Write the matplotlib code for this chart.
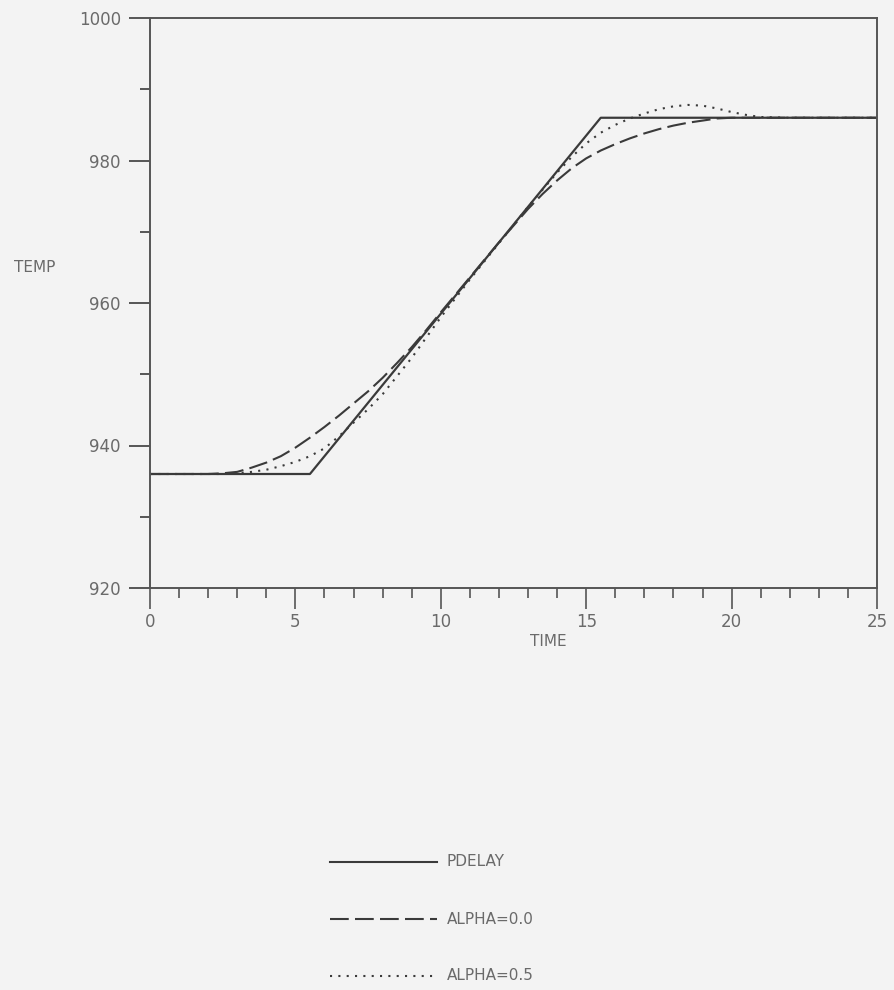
import matplotlib
matplotlib.use("Agg")
import matplotlib.pyplot as plt
from matplotlib.lines import Line2D
from matplotlib.ticker import MultipleLocator

# PDELAY: pure delay response (piecewise linear)
t_pdelay = [0.0, 5.5, 15.5, 25.0]
temp_pdelay = [936.0, 936.0, 986.0, 986.0]

# ALPHA=0.0 (dashed)
t_a00 = [0, 1, 2, 2.5, 3, 3.5, 4, 4.5, 5, 5.5, 6, 6.5, 7, 7.5, 8, 8.5, 9, 9.5, 10,
         11, 12, 13, 13.5, 14, 14.5, 15, 15.5, 16, 16.5, 17, 17.5, 18, 18.5, 19, 19.5, 20, 21, 25]
temp_a00 = [936.0, 936.0, 936.0, 936.1, 936.3, 936.9, 937.6, 938.5, 939.7, 941.1, 942.6,
            944.2, 945.9, 947.6, 949.5, 951.6, 953.8, 956.2, 958.7,
            963.6, 968.5, 973.2, 975.3, 977.2, 978.9, 980.3, 981.4, 982.3, 983.1, 983.8,
            984.4, 984.9, 985.3, 985.6, 985.9, 986.0, 986.0, 986.0]

# ALPHA=0.5 (dotted)
t_a05 = [0, 1, 2, 2.5, 3, 3.5, 4, 4.5, 5, 5.5, 6, 6.5, 7, 7.5, 8, 9, 10, 11, 12, 13, 14,
         14.5, 15, 15.5, 16, 16.5, 17, 17.5, 18, 18.5, 19, 19.5, 20, 20.5, 21, 22, 25]
temp_a05 = [936.0, 936.0, 936.0, 936.0, 936.1, 936.3, 936.6, 937.1, 937.7, 938.5, 939.6,
            941.3, 943.2, 945.1, 947.2, 952.3, 958.0, 963.3, 968.4, 973.5, 978.3,
            980.5, 982.4, 983.9, 985.0, 985.9, 986.6, 987.2, 987.6, 987.8, 987.7, 987.3,
            986.8, 986.4, 986.1, 986.0, 986.0]

xticks = [0, 5, 10, 15, 20, 25]
yticks = [920, 940, 960, 980, 1000]
legend_labels = ["PDELAY", "ALPHA=0.0", "ALPHA=0.5"]

bg = "#f3f3f3"
ink = "#3a3a3a"
txt = "#6a6a6a"

fig = plt.figure(figsize=(8.94, 9.9), dpi=100, facecolor=bg)
ax = fig.add_axes([150 / 894, 1 - 588 / 990, (877 - 150) / 894, (588 - 18) / 990])
ax.set_facecolor(bg)

ax.plot(t_pdelay, temp_pdelay, color=ink, lw=1.6, ls="-")
ax.plot(t_a00, temp_a00, color=ink, lw=1.5, ls=(0, (9, 3)))
ax.plot(t_a05, temp_a05, color=ink, lw=1.5, ls=(0, (1, 3)))

ax.set_xlim(0, 25)
ax.set_ylim(920, 1000)
ax.set_xticks(xticks)
ax.set_yticks(yticks)
ax.xaxis.set_minor_locator(MultipleLocator(1))
ax.yaxis.set_minor_locator(MultipleLocator(10))

for s in ax.spines.values():
    s.set_color("#555555")
    s.set_linewidth(1.4)

ax.tick_params(axis="y", which="major", direction="out", length=15, width=1.4,
               color="#555555", pad=6, labelsize=12, labelcolor=txt)
ax.tick_params(axis="y", which="minor", direction="out", length=7, width=1.4, color="#555555")
ax.tick_params(axis="x", which="major", direction="out", length=15, width=1.2,
               color="#555555", pad=3, labelsize=12, labelcolor=txt)
ax.tick_params(axis="x", which="minor", direction="out", length=7, width=1.2, color="#555555")

fig.text(14 / 894, 1 - 268 / 990, "TEMP", fontsize=11, color=txt, ha="left", va="center")
fig.text(548 / 894, 1 - 641 / 990, "TIME", fontsize=11, color=txt, ha="center", va="center")

# legend drawn below the plot
styles = ["-", (0, (9, 3)), (0, (1, 3))]
ys = [862, 919, 976]
for lab, st, yp in zip(legend_labels, styles, ys):
    yf = 1 - yp / 990
    fig.add_artist(Line2D([330 / 894, 437 / 894], [yf, yf], color=ink, lw=1.5, ls=st,
                          transform=fig.transFigure))
    fig.text(447 / 894, yf, lab, fontsize=11, color=txt, ha="left", va="center")

fig.savefig("out.png", dpi=100, facecolor=bg)
